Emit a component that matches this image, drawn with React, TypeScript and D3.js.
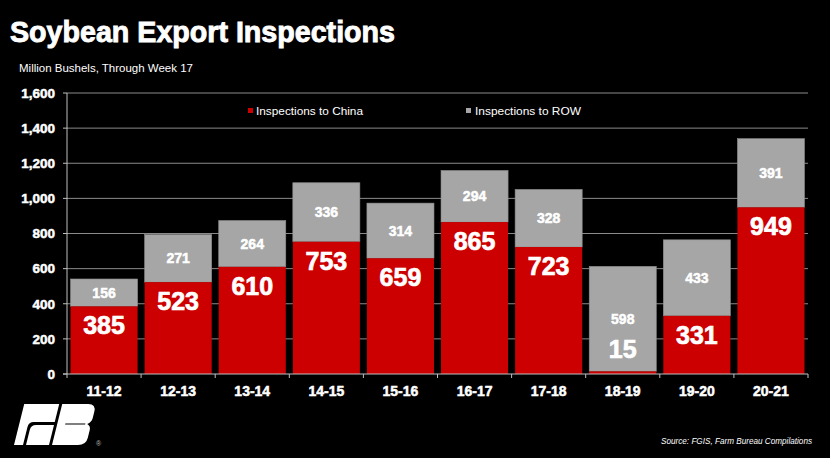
import React from "react";
import * as d3 from "d3";

const seasons = ["11-12", "12-13", "13-14", "14-15", "15-16", "16-17", "17-18", "18-19", "19-20", "20-21"];
const china = [385, 523, 610, 753, 659, 865, 723, 15, 331, 949];
const row = [156, 271, 264, 336, 314, 294, 328, 598, 433, 391];
const yTicks = [0, 200, 400, 600, 800, 1000, 1200, 1400, 1600];
const seriesNames = ["Inspections to China", "Inspections to ROW"];

const W = 830;
const H = 458;
const RED = "#cc0000";
const GRAY = "#a6a6a6";
const FONT = "'Liberation Sans', Arial, sans-serif";

export default function App() {
  const x = d3.scaleBand<string>().domain(seasons).range([67, 808]).paddingInner(0.095).paddingOuter(0.0475);
  const y = d3.scaleLinear().domain([0, 1600]).range([374, 93]);
  const fmt = d3.format(",");
  const y0 = y(0);
  const heavy = { stroke: "#fff", strokeWidth: 0.5, paintOrder: "stroke" } as any;

  return (
    <svg width={W} height={H} style={{ position: "absolute", left: 0, top: 0, display: "block", background: "#000" }} fontFamily={FONT}>
      <rect x={0} y={0} width={W} height={H} fill="#000" />
      {/* Title */}
      <text x={10} y={41.5} fill="#fff" fontSize={29} fontWeight="bold" textLength={385} lengthAdjust="spacingAndGlyphs" stroke="#fff" strokeWidth={0.9}>
        Soybean Export Inspections
      </text>
      <text x={19} y={71.5} fill="#fff" fontSize={10} textLength={174} lengthAdjust="spacingAndGlyphs">
        Million Bushels, Through Week 17
      </text>

      {/* Gridlines and y ticks */}
      {yTicks.map((t) => (
        <g key={t}>
          {t > 0 && <line x1={67} x2={808} y1={y(t)} y2={y(t)} stroke="#8a8a8a" strokeWidth={1} />}
          <line x1={63} x2={67} y1={y(t)} y2={y(t)} stroke="#bfbfbf" strokeWidth={1} />
          <text x={55} y={y(t)} dy="0.36em" textAnchor="end" fill="#fff" fontSize={13.5} fontWeight="bold" {...heavy}>
            {fmt(t)}
          </text>
        </g>
      ))}

      {/* Legend */}
      <rect x={248} y={108} width={5} height={5} fill={RED} />
      <text x={256} y={115} fill="#fff" fontSize={11.5} textLength={107} lengthAdjust="spacingAndGlyphs">{seriesNames[0]}</text>
      <rect x={466} y={108} width={5} height={5} fill={GRAY} />
      <text x={475} y={115} fill="#fff" fontSize={11.5} textLength={106} lengthAdjust="spacingAndGlyphs">{seriesNames[1]}</text>

      {/* Bars */}
      {seasons.map((s, i) => {
        const bx = x(s)!;
        const bw = x.bandwidth();
        const cTop = y(china[i]);
        const rTop = y(china[i] + row[i]);
        const cx = bx + bw / 2;
        const cLabelY = Math.min(cTop + 19, y0 - 25);
        const rLabelY = (cTop + rTop) / 2;
        return (
          <g key={s}>
            <rect x={bx} y={rTop} width={bw} height={cTop - rTop} fill={GRAY} stroke="#8c8c8c" strokeWidth={0.6} />
            <rect x={bx} y={cTop} width={bw} height={y0 - cTop} fill={RED} />
            <text x={cx} y={rLabelY} dy="0.36em" textAnchor="middle" fill="#fff" fontSize={14} fontWeight="bold" {...heavy}>
              {row[i]}
            </text>
            <text x={cx} y={cLabelY} dy="0.36em" textAnchor="middle" fill="#fff" fontSize={25} fontWeight="bold" stroke="#fff" strokeWidth={0.7}>
              {china[i]}
            </text>
            <text x={cx} y={395.5} textAnchor="middle" fill="#fff" fontSize={14} fontWeight="bold" {...heavy}>
              {s}
            </text>
          </g>
        );
      })}

      {/* Axes */}
      <line x1={67} x2={67} y1={93} y2={374} stroke="#bfbfbf" strokeWidth={1} />
      <line x1={63} x2={808} y1={374} y2={374} stroke="#bfbfbf" strokeWidth={1} />
      {seasons.map((s) => (
        <line key={"t" + s} x1={x(s)! - (x.step() - x.bandwidth()) / 2} x2={x(s)! - (x.step() - x.bandwidth()) / 2} y1={374} y2={378} stroke="#bfbfbf" />
      ))}
      <line x1={808} x2={808} y1={374} y2={378} stroke="#bfbfbf" />

      {/* Logo */}
      <g transform="translate(14,445) skewX(-14)">
        <path d="M0,0 V-41 H35 V-23 H14 Q9,-23 9,-18 V0 Z" fill="#fff" />
        <path d="M12,0 V-15 Q12,-20 17,-20 H35 V0 Z" fill="#fff" />
        <path d="M38,-41 H64 Q72,-41 72,-33 V-27 Q72,-23 68,-21 Q72,-19 72,-15 V-7 Q72,0 64,0 H38 Z" fill="#fff" />
        <path d="M46,-21.6 H66 V-20.4 H46 Z" fill="#000" />
      </g>
      <text x={96} y={446} fill="#bbb" fontSize={7}>®</text>

      {/* Source */}
      <text x={812} y={444} textAnchor="end" fill="#fff" fontSize={8.5} fontStyle="italic" textLength={151} lengthAdjust="spacingAndGlyphs">
        Source: FGIS, Farm Bureau Compilations
      </text>
    </svg>
  );
}
